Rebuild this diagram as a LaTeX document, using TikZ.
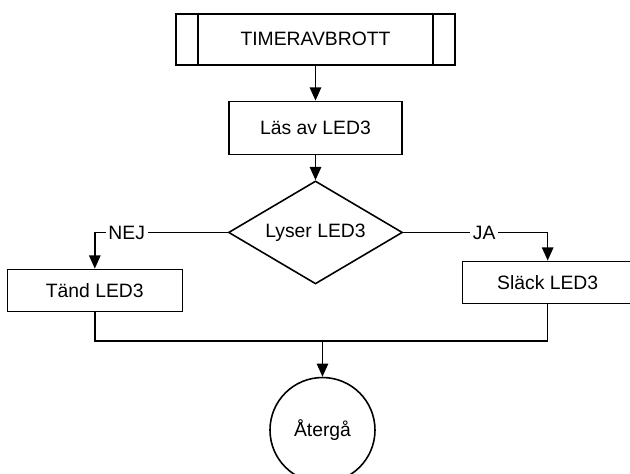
\documentclass[tikz,border=0pt]{standalone}
\usepackage{fontspec}
\setmainfont{Liberation Sans}
\usepackage{tikz}
\usetikzlibrary{shapes.geometric, arrows.meta, positioning, calc}
\tikzset{
  %% Plain process box
  pbox/.style={
    rectangle, draw=black, fill=white,
    text centered, line width=0.9pt,
    inner sep=3pt
  },
  %% Decision diamond
  beslut/.style={
    diamond, draw=black, fill=white,
    text centered, aspect=1.7, inner sep=0pt,
    minimum width=3.48cm, minimum height=2.06cm,
    line width=0.9pt
  },
  %% End circle
  slut/.style={
    circle, draw=black, fill=white,
    minimum size=2.1cm, inner sep=0pt, line width=0.9pt
  },
  %% Arrow
  arr/.style={-{Triangle[length=7.5pt,width=6.5pt]},
              draw=black, line width=0.9pt},
  lin/.style={draw=black, line width=0.9pt},
  %% Label on a branch
  gren/.style={fill=white, inner sep=1.5pt},
}

\begin{document}
\begin{tikzpicture}[every node/.style={font=\fontsize{11pt}{13pt}\selectfont}]

  %% Start (predefined process)
  \node[pbox, minimum width=5.58cm, minimum height=1.02cm] (timer)
        {TIMERAVBROTT};
  \draw[lin] ([xshift=0.46cm]timer.north west) -- ([xshift=0.46cm]timer.south west);
  \draw[lin] ([xshift=-0.46cm]timer.north east) -- ([xshift=-0.46cm]timer.south east);

  %% Read LED
  \node[pbox, minimum width=3.46cm, minimum height=1.06cm,
        below=0.70cm of timer] (las)
        {Läs av LED3};

  %% Decision
  \node[beslut, below=0.5cm of las] (lyser)
        {Lyser LED3};

  %% Branch nodes
  \node[pbox, minimum width=3.5cm, minimum height=0.84cm,
        below left=0.2cm and 1.77cm of lyser.south west, anchor=north east] (tand)
        {Tänd LED3};
  \node[pbox, minimum width=3.4cm, minimum height=0.84cm,
        below right=0.04cm and 2.05cm of lyser.south east, anchor=north west] (slack)
        {Släck LED3};

  %% Merge point and return
  \coordinate[below=1.12cm of lyser.south, xshift=0.14cm] (samla);
  \node[slut, below=1.84cm of lyser.south, anchor=north, xshift=0.14cm] (ater)
        {Återgå};

  %% Straight arrows
  \foreach \a/\b in {timer/las, las/lyser}
    \draw[arr] (\a) -- (\b);

  %% Branch arrows
  \draw[arr] (lyser.west) -| node[gren, pos=0.38]{NEJ} (tand.north);
  \draw[arr] (lyser.east) -| node[gren, pos=0.28]{JA} (slack.north);

  %% Converge
  \draw[lin] (tand.south) |- (samla);
  \draw[lin] (slack.south) |- (samla);
  \draw[arr] (samla) -- (ater);

  %% Frame
  \pgfresetboundingbox
  \useasboundingbox ($(timer.north)+(-6.31,0.26)$) rectangle +(12.6,-9.48);

\end{tikzpicture}
\end{document}
